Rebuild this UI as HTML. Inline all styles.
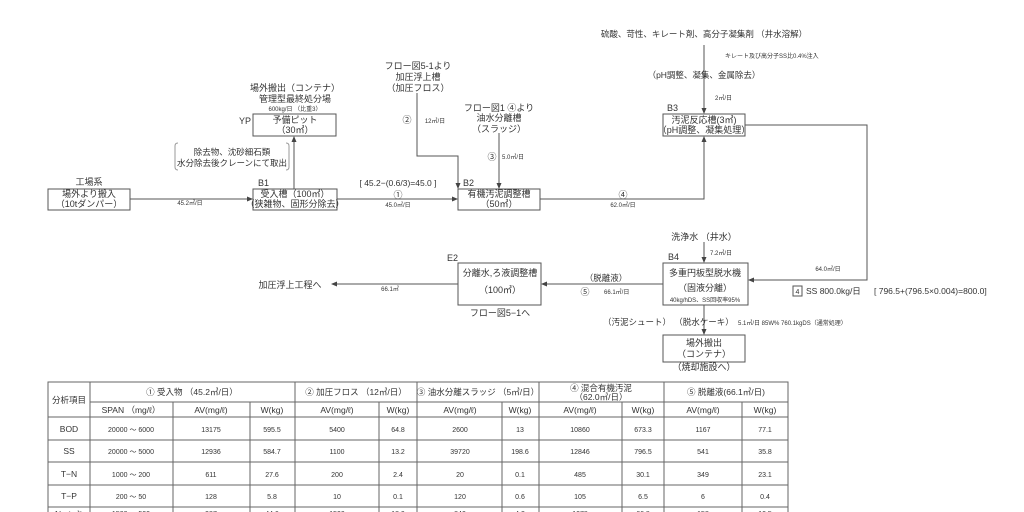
<!DOCTYPE html>
<html><head><meta charset="utf-8"><style>
html,body{margin:0;padding:0;background:#fff;}
svg{display:block;font-family:"Liberation Sans","Noto Sans CJK JP",sans-serif;}
text{fill:#333;}
.m{font-size:9px;}
.s{font-size:6px;}
.t{font-size:8.5px;}
</style></head><body>
<svg width="1024" height="512" viewBox="0 0 1024 512" xmlns="http://www.w3.org/2000/svg">
<defs><marker id="a" markerWidth="6" markerHeight="6" refX="5" refY="3" orient="auto"><path d="M0,0.5 L6,3 L0,5.5z" fill="#444"/></marker></defs>
<g fill="none" stroke="#555" stroke-width="1">
<rect x="48" y="189" width="82" height="21"/>
<rect x="253" y="189" width="84" height="21"/>
<rect x="253" y="114" width="83" height="22"/>
<rect x="458" y="189" width="82" height="21"/>
<rect x="663" y="114" width="82" height="22"/>
<rect x="663" y="263" width="85" height="42"/>
<rect x="458" y="263" width="83" height="42"/>
<rect x="663" y="335" width="82" height="27"/>
<path d="M178,143 q-3,0 -3,3 v21 q0,3 3,3 M286,143 q3,0 3,3 v21 q0,3 -3,3" stroke="#999"/>
</g>
<g fill="none" stroke="#555" stroke-width="1" marker-end="url(#a)">
<line x1="130" y1="199" x2="252" y2="199"/>
<line x1="294" y1="189" x2="294" y2="137"/>
<line x1="337" y1="199" x2="457" y2="199"/>
<polyline points="417,93 417,156 458,156 458,188"/>
<line x1="499" y1="133" x2="499" y2="188"/>
<polyline points="540,199 704,199 704,137"/>
<line x1="704" y1="45" x2="704" y2="113"/>
<polyline points="745,125 867,125 867,280 749,280"/>
<line x1="704" y1="242" x2="704" y2="262"/>
<line x1="663" y1="284" x2="542" y2="284"/>
<line x1="458" y1="284" x2="332" y2="284"/>
<line x1="704" y1="305" x2="704" y2="334"/>
</g>
<text class="m" x="89" y="185" text-anchor="middle">工場系</text>
<text class="m" x="89" y="197" text-anchor="middle">場外より搬入</text>
<text class="m" x="89" y="207" text-anchor="middle">（10tダンパー）</text>
<text class="s" x="190" y="205" text-anchor="middle">45.2㎥/日</text>
<text class="m" x="258" y="186">B1</text>
<text class="m" x="295" y="197" text-anchor="middle">受入槽（100㎥）</text>
<text class="m" x="295" y="207" text-anchor="middle">（狭雑物、固形分除去）</text>
<text class="m" x="295" y="91" text-anchor="middle">場外搬出（コンテナ）</text>
<text class="m" x="295" y="102" text-anchor="middle">管理型最終処分場</text>
<text class="s" x="295" y="111" text-anchor="middle">600kg/日 （比重3）</text>
<text class="m" x="239" y="124">YP</text>
<text class="m" x="295" y="123" text-anchor="middle">予備ピット</text>
<text class="m" x="295" y="133" text-anchor="middle">（30㎥）</text>
<text class="t" x="232" y="155" text-anchor="middle">除去物、沈砂細石類</text>
<text class="t" x="232" y="166" text-anchor="middle">水分除去後クレーンにて取出</text>
<text class="t" x="398" y="186" text-anchor="middle">[ 45.2−(0.6/3)=45.0 ]</text>
<text class="m" x="398" y="198" text-anchor="middle">①</text>
<text class="s" x="398" y="207" text-anchor="middle">45.0㎥/日</text>
<text class="m" x="418" y="69" text-anchor="middle">フロー図5-1より</text>
<text class="m" x="418" y="80" text-anchor="middle">加圧浮上槽</text>
<text class="m" x="418" y="91" text-anchor="middle">（加圧フロス）</text>
<text class="m" x="407" y="123" text-anchor="middle">②</text>
<text class="s" x="435" y="123" text-anchor="middle">12㎥/日</text>
<text class="m" x="499" y="111" text-anchor="middle">フロー図1 ④より</text>
<text class="m" x="499" y="121" text-anchor="middle">油水分離槽</text>
<text class="m" x="499" y="132" text-anchor="middle">（スラッジ）</text>
<text class="m" x="492" y="160" text-anchor="middle">③</text>
<text class="s" x="513" y="159" text-anchor="middle">5.0㎥/日</text>
<text class="m" x="463" y="186">B2</text>
<text class="m" x="499" y="197" text-anchor="middle">有機汚泥調整槽</text>
<text class="m" x="499" y="207" text-anchor="middle">（50㎥）</text>
<text class="m" x="623" y="198" text-anchor="middle">④</text>
<text class="s" x="623" y="207" text-anchor="middle">62.0㎥/日</text>
<text class="t" x="704" y="37" text-anchor="middle">硫酸、苛性、キレート剤、高分子凝集剤 （井水溶解）</text>
<text class="s" x="725" y="58">キレート及び高分子SS比0.4%注入</text>
<text class="t" x="704" y="78" text-anchor="middle">（pH調整、凝集、金属除去）</text>
<text class="s" x="715" y="100">2㎥/日</text>
<text class="m" x="667" y="111">B3</text>
<text class="m" x="704" y="123" text-anchor="middle">汚泥反応槽(3㎥)</text>
<text class="m" x="704" y="133" text-anchor="middle">（pH調整、凝集処理）</text>
<text class="s" x="828" y="271" text-anchor="middle">64.0㎥/日</text>
<rect x="793" y="286" width="9" height="10" fill="none" stroke="#555"/>
<text class="s" x="797.5" y="294" text-anchor="middle" style="font-size:7px">4</text>
<text class="t" x="806" y="294">SS 800.0kg/日</text>
<text class="t" x="874" y="294">[ 796.5+(796.5×0.004)=800.0]</text>
<text class="m" x="704" y="240" text-anchor="middle">洗浄水 （井水）</text>
<text class="s" x="710" y="255">7.2㎥/日</text>
<text class="m" x="668" y="260">B4</text>
<text class="m" x="705" y="276" text-anchor="middle">多重円板型脱水機</text>
<text class="m" x="705" y="291" text-anchor="middle">（固液分離）</text>
<text class="s" x="705" y="302" text-anchor="middle">40kg/hDS、SS回収率95%</text>
<text class="t" x="606" y="281" text-anchor="middle">（脱離液）</text>
<text class="m" x="585" y="295" text-anchor="middle">⑤</text>
<text class="s" x="604" y="294">66.1㎥/日</text>
<text class="t" x="637" y="325" text-anchor="middle">（汚泥シュート）</text>
<text class="t" x="704" y="325" text-anchor="middle">（脱水ケーキ）</text>
<text class="s" x="738" y="325">5.1㎥/日 85W%  760.1kgDS（通常処理）</text>
<text class="m" x="704" y="346" text-anchor="middle">場外搬出</text>
<text class="m" x="704" y="357" text-anchor="middle">（コンテナ）</text>
<text class="m" x="704" y="370" text-anchor="middle">（焼却施設へ）</text>
<text class="m" x="447" y="261">E2</text>
<text class="m" x="500" y="276" text-anchor="middle">分離水,ろ液調整槽</text>
<text class="m" x="500" y="293" text-anchor="middle">（100㎥）</text>
<text class="m" x="500" y="316" text-anchor="middle">フロー図5−1へ</text>
<text class="m" x="290" y="288" text-anchor="middle">加圧浮上工程へ</text>
<text class="s" x="390" y="291" text-anchor="middle">66.1㎥</text>
<g stroke="#666" stroke-width="1" fill="none">
<rect x="48" y="382" width="740" height="140"/>
<line x1="90" y1="402" x2="788" y2="402"/>
<line x1="48" y1="417" x2="788" y2="417"/>
<line x1="48" y1="440" x2="788" y2="440"/>
<line x1="48" y1="462" x2="788" y2="462"/>
<line x1="48" y1="485" x2="788" y2="485"/>
<line x1="48" y1="507" x2="788" y2="507"/>
<line x1="90" y1="382" x2="90" y2="512"/>
<line x1="173" y1="402" x2="173" y2="512"/>
<line x1="250" y1="402" x2="250" y2="512"/>
<line x1="295" y1="382" x2="295" y2="512"/>
<line x1="379" y1="402" x2="379" y2="512"/>
<line x1="417" y1="382" x2="417" y2="512"/>
<line x1="502" y1="402" x2="502" y2="512"/>
<line x1="539" y1="382" x2="539" y2="512"/>
<line x1="622" y1="402" x2="622" y2="512"/>
<line x1="664" y1="382" x2="664" y2="512"/>
<line x1="742" y1="402" x2="742" y2="512"/>
</g>
<g class="t" text-anchor="middle" font-size="8.5">
<text x="69" y="403">分析項目</text>
<text x="192" y="395">① 受入物 （45.2㎥/日）</text>
<text x="356" y="395">② 加圧フロス （12㎥/日）</text>
<text x="478" y="395">③ 油水分離スラッジ （5㎥/日）</text>
<text x="601" y="391">④ 混合有機汚泥</text>
<text x="601" y="400">（62.0㎥/日）</text>
<text x="726" y="395">⑤ 脱離液(66.1㎥/日)</text>
<text x="131" y="413">SPAN （mg/ℓ）</text><text x="211" y="413">AV(mg/ℓ)</text><text x="272" y="413">W(kg)</text>
<text x="337" y="413">AV(mg/ℓ)</text><text x="398" y="413">W(kg)</text>
<text x="460" y="413">AV(mg/ℓ)</text><text x="520" y="413">W(kg)</text>
<text x="580" y="413">AV(mg/ℓ)</text><text x="643" y="413">W(kg)</text>
<text x="703" y="413">AV(mg/ℓ)</text><text x="765" y="413">W(kg)</text>
</g>
<g text-anchor="middle" style="font-size:7px">
<text x="69" y="432" style="font-size:8.5px">BOD</text><text x="131" y="432">20000 ～ 6000</text><text x="211" y="432">13175</text><text x="272" y="432">595.5</text><text x="337" y="432">5400</text><text x="398" y="432">64.8</text><text x="460" y="432">2600</text><text x="520" y="432">13</text><text x="580" y="432">10860</text><text x="643" y="432">673.3</text><text x="703" y="432">1167</text><text x="765" y="432">77.1</text>
<text x="69" y="454" style="font-size:8.5px">SS</text><text x="131" y="454">20000 ～ 5000</text><text x="211" y="454">12936</text><text x="272" y="454">584.7</text><text x="337" y="454">1100</text><text x="398" y="454">13.2</text><text x="460" y="454">39720</text><text x="520" y="454">198.6</text><text x="580" y="454">12846</text><text x="643" y="454">796.5</text><text x="703" y="454">541</text><text x="765" y="454">35.8</text>
<text x="69" y="477" style="font-size:8.5px">T−N</text><text x="131" y="477">1000 ～ 200</text><text x="211" y="477">611</text><text x="272" y="477">27.6</text><text x="337" y="477">200</text><text x="398" y="477">2.4</text><text x="460" y="477">20</text><text x="520" y="477">0.1</text><text x="580" y="477">485</text><text x="643" y="477">30.1</text><text x="703" y="477">349</text><text x="765" y="477">23.1</text>
<text x="69" y="499" style="font-size:8.5px">T−P</text><text x="131" y="499">200 ～ 50</text><text x="211" y="499">128</text><text x="272" y="499">5.8</text><text x="337" y="499">10</text><text x="398" y="499">0.1</text><text x="460" y="499">120</text><text x="520" y="499">0.6</text><text x="580" y="499">105</text><text x="643" y="499">6.5</text><text x="703" y="499">6</text><text x="765" y="499">0.4</text>
<text x="69" y="517" style="font-size:8.5px">N−ヘキ</text><text x="131" y="516">1500 ～ 500</text><text x="211" y="516">987</text><text x="272" y="516">44.6</text><text x="337" y="516">1500</text><text x="398" y="516">18.0</text><text x="460" y="516">840</text><text x="520" y="516">4.2</text><text x="580" y="516">1078</text><text x="643" y="516">66.8</text><text x="703" y="516">158</text><text x="765" y="516">10.5</text>
</g>
</svg>
</body></html>
